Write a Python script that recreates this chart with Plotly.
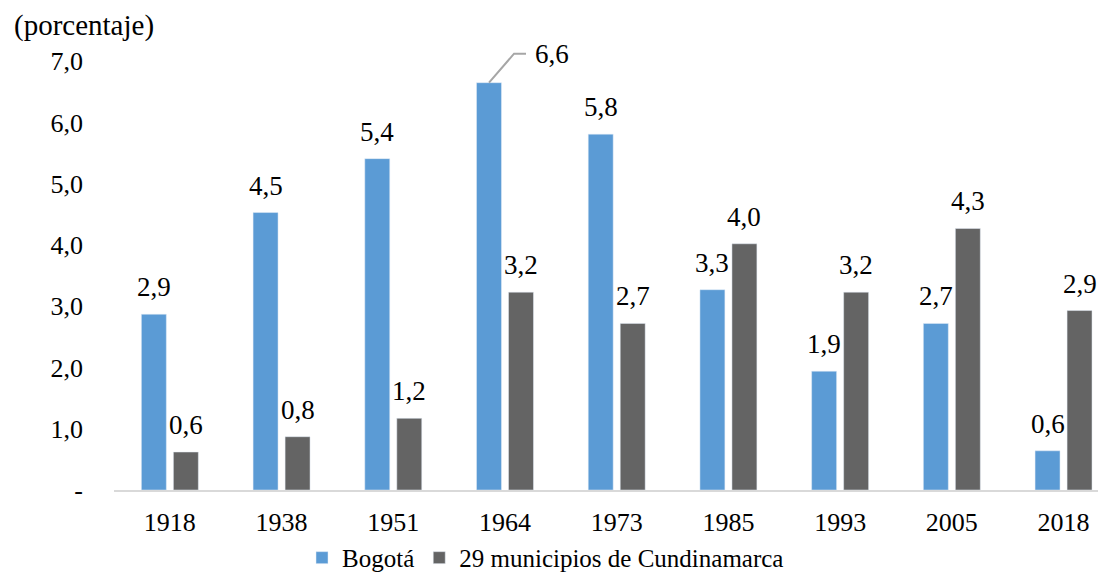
import plotly.graph_objects as go

years = ["1918", "1938", "1951", "1964", "1973", "1985", "1993", "2005", "2018"]
bogota = [2.87, 4.53, 5.41, 6.65, 5.81, 3.27, 1.94, 2.72, 0.64]
municipios = [0.62, 0.87, 1.17, 3.23, 2.72, 4.02, 3.23, 4.27, 2.93]
bogota_labels = ["2,9", "4,5", "5,4", "6,6", "5,8", "3,3", "1,9", "2,7", "0,6"]
municipios_labels = ["0,6", "0,8", "1,2", "3,2", "2,7", "4,0", "3,2", "4,3", "2,9"]
ytick_vals = [0, 1, 2, 3, 4, 5, 6, 7]
ytick_text = ["-", "1,0", "2,0", "3,0", "4,0", "5,0", "6,0", "7,0"]

BLUE = "#5B9BD5"
GRAY = "#646464"
FONT = "Liberation Serif, serif"
FS_LABEL = 27
FS_TICK = 26
FS_LEG = 25
FS_TITLE = 29

fig = go.Figure()
fig.add_trace(go.Bar(name="Bogotá", x=years, y=bogota, marker_color=BLUE))
fig.add_trace(go.Bar(name="29 municipios de Cundinamarca", x=years, y=municipios, marker_color=GRAY))

annotations = []
off = 0.143
for i, y in enumerate(years):
    if i == 3:
        annotations.append(dict(x=i, y=bogota[i], xref="x", yref="y", text=bogota_labels[i],
                                showarrow=False, xshift=47, yshift=29, yanchor="middle",
                                font=dict(size=FS_LABEL, color="black", family=FONT)))
    else:
        annotations.append(dict(x=i, y=bogota[i], xref="x", yref="y", text=bogota_labels[i],
                                showarrow=False, xshift=-16, yshift=10, yanchor="bottom",
                                font=dict(size=FS_LABEL, color="black", family=FONT)))
    annotations.append(dict(x=i, y=municipios[i], xref="x", yref="y", text=municipios_labels[i],
                            showarrow=False, xshift=16, yshift=10, yanchor="bottom",
                            font=dict(size=FS_LABEL, color="black", family=FONT)))

annotations.append(dict(x=0, y=1, xref="paper", yref="paper", xanchor="left", yanchor="middle",
                        text="(porcentaje)", showarrow=False, xshift=-102, yshift=24,
                        font=dict(size=FS_TITLE, color="black", family=FONT)))

# leader line for 1964 Bogotá label
x0 = 3 - off
y0 = bogota[3]
x1 = x0 + 0.224
y1 = y0 + 0.473
x2 = x1 + 0.107
fig.add_shape(type="path", xref="x", yref="y",
              path=f"M {x0},{y0} L {x1},{y1} L {x2},{y1}",
              line=dict(color="#a6a6a6", width=2))

fig.update_layout(
    width=1098, height=565,
    margin=dict(l=106, r=0, t=41, b=83, autoexpand=False),
    paper_bgcolor="white", plot_bgcolor="white",
    barmode="group", bargap=0.427, bargroupgap=0.22,
    font=dict(family=FONT, size=FS_TICK, color="black"),
    annotations=annotations,
    showlegend=True,
    legend=dict(orientation="h", x=0.435, xanchor="center", y=-0.154, yanchor="middle",
                font=dict(size=FS_LEG, family=FONT, color="black"), itemwidth=30,
                bgcolor="rgba(0,0,0,0)"),
    xaxis=dict(type="category", range=[-0.5, 8.38], showgrid=False, showline=True,
               linecolor="#d9d9d9", linewidth=2, ticks="", ticklabelstandoff=8,
               automargin=False,
               tickfont=dict(size=FS_TICK, family=FONT, color="black"), fixedrange=True),
    yaxis=dict(range=[0, 7.2], tickvals=ytick_vals, ticktext=ytick_text, showgrid=False,
               zeroline=False, showline=False, ticks="", ticklabelstandoff=30,
               automargin=False,
               tickfont=dict(size=FS_TICK, family=FONT, color="black"), fixedrange=True),
)

fig.write_html("out.html", config={"displayModeBar": False})
